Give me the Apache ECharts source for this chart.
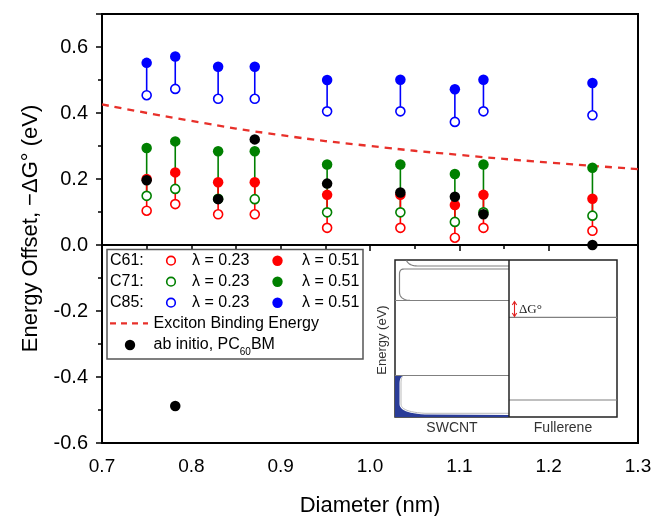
<!DOCTYPE html>
<html><head><meta charset="utf-8">
<script src="https://cdn.jsdelivr.net/npm/echarts@6/dist/echarts.min.js"></script>
<style>html,body{margin:0;padding:0;background:#fff}#c{width:654px;height:516px}</style>
</head><body><div id="c"></div>
<script>
const diameters = [0.75, 0.782, 0.83, 0.871, 0.952, 1.034, 1.095, 1.127, 1.249];
const c61Low  = [0.104, 0.124, 0.093, 0.093, 0.052, 0.052, 0.022, 0.052, 0.043];
const c61High = [0.200, 0.220, 0.190, 0.190, 0.152, 0.152, 0.121, 0.152, 0.140];
const c71Low  = [0.149, 0.170, 0.140, 0.139, 0.099, 0.099, 0.070, 0.099, 0.089];
const c71High = [0.294, 0.314, 0.284, 0.284, 0.244, 0.244, 0.215, 0.244, 0.234];
const c85Low  = [0.454, 0.473, 0.443, 0.443, 0.405, 0.405, 0.373, 0.405, 0.393];
const c85High = [0.552, 0.571, 0.540, 0.540, 0.500, 0.501, 0.472, 0.501, 0.491];
const abInitio = [0.196, -0.488, 0.139, 0.320, 0.186, 0.159, 0.146, 0.093, 0.0];
const excitonD = [0.7, 0.8, 0.9, 1.0, 1.1, 1.2, 1.3];
const excitonE = [0.426, 0.376, 0.333, 0.300, 0.273, 0.250, 0.230];

const RED = '#ff0000', GREEN = '#008000', BLUE = '#0000ff';
const FONT = 'Liberation Sans, Arial, sans-serif';

function pairs(xs, ys) { return xs.map((x, i) => [x, ys[i]]); }
function stems(lo, hi) { return diameters.map((x, i) => [x, lo[i], hi[i]]); }

function stemSeries(lo, hi, color) {
  return {
    type: 'custom', data: stems(lo, hi), encode: {x: 0, y: [1, 2]}, silent: true, z: 2,
    renderItem: function (params, api) {
      const p1 = api.coord([api.value(0), api.value(1)]);
      const p2 = api.coord([api.value(0), api.value(2)]);
      return {type: 'line', shape: {x1: p1[0], y1: p1[1], x2: p2[0], y2: p2[1]},
              style: {stroke: color, lineWidth: 1.6}};
    }
  };
}
function openSeries(vals, color) {
  return {type: 'scatter', data: pairs(diameters, vals), symbol: 'circle', symbolSize: 9, z: 3,
          itemStyle: {color: '#fff', borderColor: color, borderWidth: 1.6, opacity: 1}};
}
function filledSeries(vals, color) {
  return {type: 'scatter', data: pairs(diameters, vals), symbol: 'circle', symbolSize: 10.5, z: 4,
          itemStyle: {color: color, opacity: 1}};
}

const cv = document.createElement('canvas').getContext('2d');
function tw(t, size) { cv.font = size + 'px ' + FONT; return cv.measureText(t).width; }
// quadratic bezier sampler for inset schematic outlines
function q(p0, c, p1) {
  const out = [];
  for (let i = 0; i <= 12; i++) {
    const t = i / 12, a = (1 - t) * (1 - t), b = 2 * (1 - t) * t, d = t * t;
    out.push([a * p0[0] + b * c[0] + d * p1[0], a * p0[1] + b * c[1] + d * p1[1]]);
  }
  return out;
}

// legend graphics
const LF = 16;
const lg = [];
lg.push({type: 'rect', shape: {x: 107, y: 249.5, width: 256, height: 109.5}, style: {fill: '#fff', stroke: '#555', lineWidth: 1.5}, z: 10});
const rows = [['C61:', RED, 260.7], ['C71:', GREEN, 281.7], ['C85:', BLUE, 302.7]];
rows.forEach(r => {
  lg.push({type: 'text', x: 110, y: r[2], style: {text: r[0], font: LF + 'px ' + FONT, fill: '#000', verticalAlign: 'middle'}, z: 11});
  lg.push({type: 'circle', shape: {cx: 171, cy: r[2], r: 4.3}, style: {fill: '#fff', stroke: r[1], lineWidth: 1.6}, z: 11});
  lg.push({type: 'text', x: 192, y: r[2], style: {text: 'λ = 0.23', font: LF + 'px ' + FONT, fill: '#000', verticalAlign: 'middle'}, z: 11});
  lg.push({type: 'circle', shape: {cx: 277.5, cy: r[2], r: 5.2}, style: {fill: r[1]}, z: 11});
  lg.push({type: 'text', x: 302, y: r[2], style: {text: 'λ = 0.51', font: LF + 'px ' + FONT, fill: '#000', verticalAlign: 'middle'}, z: 11});
});
lg.push({type: 'line', shape: {x1: 110, y1: 323.3, x2: 148, y2: 323.3}, style: {stroke: '#e8302a', lineWidth: 2.2, lineDash: [6, 5]}, z: 11});
lg.push({type: 'text', x: 153.5, y: 323.3, style: {text: 'Exciton Binding Energy', font: LF + 'px ' + FONT, fill: '#000', verticalAlign: 'middle'}, z: 11});
lg.push({type: 'circle', shape: {cx: 130, cy: 345, r: 5.2}, style: {fill: '#000'}, z: 11});
const t1 = 'ab initio, PC';
lg.push({type: 'text', x: 153.5, y: 345, style: {text: t1, font: LF + 'px ' + FONT, fill: '#000', verticalAlign: 'middle'}, z: 11});
const w1 = tw(t1, LF);
lg.push({type: 'text', x: 153.5 + w1, y: 352, style: {text: '60', font: '10px ' + FONT, fill: '#000', verticalAlign: 'middle'}, z: 11});
const w2 = tw('60', 10);
lg.push({type: 'text', x: 153.5 + w1 + w2, y: 345, style: {text: 'BM', font: LF + 'px ' + FONT, fill: '#000', verticalAlign: 'middle'}, z: 11});

// inset schematic graphics
const ins = [];
const GR = '#808080';
ins.push({type: 'rect', shape: {x: 395, y: 260, width: 222, height: 157}, style: {fill: '#fff', stroke: '#222', lineWidth: 1.5}, z: 10});
const bluePts = [[395, 376], [403, 376]]
  .concat(q([403, 376], [399.5, 377], [399.5, 384]))
  .concat([[399.5, 404]])
  .concat(q([399.5, 404], [399.5, 413], [425, 414.5]))
  .concat([[509, 415], [509, 417], [395, 417]]);
ins.push({type: 'polygon', shape: {points: bluePts}, style: {fill: '#2a3c98'}, z: 11});
ins.push({type: 'polyline', shape: {points: q([406.5, 260.5], [409, 266], [418, 266]).concat([[509, 266]])}, style: {fill: null, stroke: GR, lineWidth: 1.2}, z: 11});
ins.push({type: 'polyline', shape: {points: [[509, 269], [404, 269]].concat(q([404, 269], [399.5, 269], [399.5, 274])).concat([[399.5, 292]]).concat(q([399.5, 292], [399.5, 300.5], [412, 300.5]))}, style: {fill: null, stroke: GR, lineWidth: 1.2}, z: 11});
ins.push({type: 'line', shape: {x1: 395, y1: 300.5, x2: 509, y2: 300.5}, style: {stroke: GR, lineWidth: 1.2}, z: 11});
ins.push({type: 'line', shape: {x1: 395, y1: 375.5, x2: 509, y2: 375.5}, style: {stroke: GR, lineWidth: 1.2}, z: 11});
ins.push({type: 'polyline', shape: {points: q([403, 376], [401, 377], [401, 384]).concat([[401, 404]]).concat(q([401, 404], [401, 412], [425, 413.3])).concat([[509, 413.3]])}, style: {fill: null, stroke: '#bbb', lineWidth: 1}, z: 11});
ins.push({type: 'line', shape: {x1: 509, y1: 317.3, x2: 617, y2: 317.3}, style: {stroke: GR, lineWidth: 1.2}, z: 11});
ins.push({type: 'line', shape: {x1: 509, y1: 400, x2: 617, y2: 400}, style: {stroke: GR, lineWidth: 1.2}, z: 11});
ins.push({type: 'line', shape: {x1: 509, y1: 260, x2: 509, y2: 417}, style: {stroke: '#222', lineWidth: 1.5}, z: 12});
ins.push({type: 'line', shape: {x1: 514.5, y1: 302, x2: 514.5, y2: 316}, style: {stroke: '#e02020', lineWidth: 1.1}, z: 12});
ins.push({type: 'polyline', shape: {points: [[512.3, 305], [514.5, 301.5], [516.7, 305]]}, style: {fill: null, stroke: '#e02020', lineWidth: 1.1}, z: 12});
ins.push({type: 'polyline', shape: {points: [[512.3, 313], [514.5, 316.5], [516.7, 313]]}, style: {fill: null, stroke: '#e02020', lineWidth: 1.1}, z: 12});
ins.push({type: 'text', x: 519, y: 309.5, style: {text: 'ΔG°', font: '13px Liberation Serif, Times New Roman, serif', fill: '#222', verticalAlign: 'middle'}, z: 12});
ins.push({type: 'text', x: 382, y: 340, rotation: Math.PI / 2, style: {text: 'Energy (eV)', font: '13px ' + FONT, fill: '#333', align: 'center', verticalAlign: 'middle'}, z: 12});
ins.push({type: 'text', x: 452, y: 428.5, style: {text: 'SWCNT', font: '14px ' + FONT, fill: '#333', align: 'center', verticalAlign: 'middle'}, z: 12});
ins.push({type: 'text', x: 563, y: 428.5, style: {text: 'Fullerene', font: '14px ' + FONT, fill: '#333', align: 'center', verticalAlign: 'middle'}, z: 12});

const chart = echarts.init(document.getElementById('c'), null, {renderer: 'canvas'});
chart.setOption({
  animation: false,
  backgroundColor: '#fff',
  textStyle: {fontFamily: FONT},
  grid: {left: 102, right: 16, top: 14, bottom: 73, containLabel: false, outerBoundsMode: 'none',
         show: true, borderColor: '#000', borderWidth: 2, backgroundColor: 'transparent'},
  xAxis: {
    type: 'value', min: 0.7, max: 1.3, interval: 0.1,
    name: 'Diameter (nm)', nameLocation: 'middle', nameGap: 52,
    nameTextStyle: {fontSize: 22, color: '#000', fontFamily: FONT},
    axisLine: {show: true, lineStyle: {color: '#000', width: 2}},
    axisTick: {show: true, inside: false, length: 6, lineStyle: {color: '#000', width: 1.5}},
    minorTick: {show: true, splitNumber: 2, length: 4, lineStyle: {color: '#000', width: 1.5}},
    splitLine: {show: false},
    axisLabel: {fontSize: 19, color: '#000', margin: 14, fontFamily: FONT, formatter: v => v.toFixed(1)}
  },
  yAxis: {
    type: 'value', min: -0.6, max: 0.7, interval: 0.2,
    name: 'Energy Offset, −ΔG° (eV)', nameLocation: 'middle', nameGap: 60,
    nameTextStyle: {fontSize: 22, color: '#000', fontFamily: FONT},
    axisLine: {show: true, lineStyle: {color: '#000', width: 2}},
    axisTick: {show: true, inside: false, length: 6, lineStyle: {color: '#000', width: 1.5}},
    minorTick: {show: true, splitNumber: 2, length: 4, lineStyle: {color: '#000', width: 1.5}},
    splitLine: {show: false},
    axisLabel: {fontSize: 20, color: '#000', margin: 14, fontFamily: FONT, showMaxLabel: false,
                formatter: v => (Math.abs(v) < 1e-9 ? 0 : v).toFixed(1)}
  },
  series: [
    {type: 'line', data: pairs(excitonD, excitonE), smooth: true, showSymbol: false, symbol: 'none', silent: true, z: 1,
     lineStyle: {color: '#e8302a', width: 2.3, type: [7, 6]}},
    stemSeries(c85Low, c85High, BLUE),
    stemSeries(c71Low, c71High, GREEN),
    stemSeries(c61Low, c61High, RED),
    openSeries(c85Low, BLUE),
    openSeries(c71Low, GREEN),
    openSeries(c61Low, RED),
    filledSeries(c85High, BLUE),
    filledSeries(c71High, GREEN),
    filledSeries(c61High, RED),
    {type: 'scatter', data: pairs(diameters, abInitio), symbol: 'circle', symbolSize: 10.5, z: 5,
     itemStyle: {color: '#000', opacity: 1},
     markLine: {silent: true, symbol: ['none', 'none'], label: {show: false}, z: 1,
                lineStyle: {color: '#000', type: 'solid', width: 1.5}, data: [{yAxis: 0}]}}
  ],
  graphic: lg.concat(ins)
});
</script></body></html>
